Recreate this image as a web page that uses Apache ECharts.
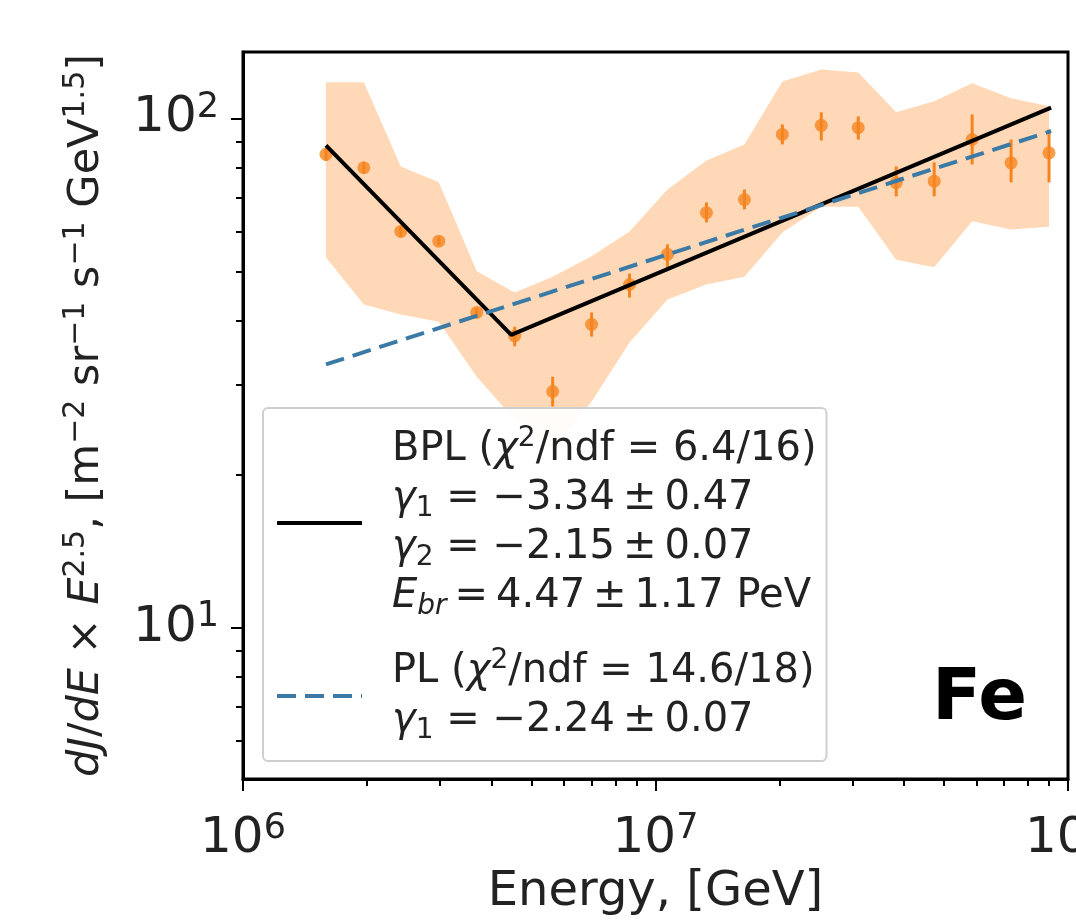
<!DOCTYPE html>
<html><head><meta charset="utf-8">
<script src="https://cdn.jsdelivr.net/npm/echarts@6/dist/echarts.min.js"></script>
<style>html,body{margin:0;padding:0;background:#fff}#c{width:1076px;height:924px}</style>
</head><body><div id="c"></div>
<script>
// ---- data ----
const energy = [1.589e6, 1.963e6, 2.413e6, 2.983e6, 3.687e6, 4.557e6, 5.632e6, 6.998e6, 8.650e6, 1.069e7,
                1.329e7, 1.643e7, 2.030e7, 2.523e7, 3.101e7, 3.833e7, 4.738e7, 5.856e7, 7.278e7, 8.995e7];
const flux = [85.0, 80.0, 60.0, 57.4, 41.6, 37.4, 29.1, 39.4, 47.2, 54.1,
              65.3, 69.3, 93.0, 96.9, 95.9, 74.8, 75.3, 90.9, 81.8, 85.6];
const fluxLow = [82.5, 78.0, 58.5, 56.3, 40.6, 35.7, 27.2, 37.3, 44.5, 51.0,
                 62.5, 66.3, 88.9, 90.5, 90.9, 70.3, 70.3, 81.2, 74.9, 74.9];
const fluxHigh = [87.5, 82.0, 61.5, 58.6, 42.5, 39.0, 31.1, 41.6, 49.6, 56.6,
                  68.4, 72.5, 97.3, 102.8, 100.9, 80.5, 82.0, 101.8, 90.9, 95.1];
const bandHigh = [117.7, 117.7, 80.5, 74.9, 50.1, 45.5, 48.9, 53.6, 60.0, 72.5,
                  82.7, 88.9, 118.2, 124.8, 123.1, 102.8, 108.0, 117.2, 109.5, 105.6];
const bandLow = [53.3, 43.1, 41.2, 39.9, 31.1, 25.6, 22.4, 27.8, 36.3, 44.1,
                 47.2, 48.9, 59.7, 67.1, 67.1, 52.8, 51.0, 62.8, 60.5, 61.3];
const bplLine = [[1.589e6, 88.5], [4.47e6, 37.6], [9.1e7, 105]];
const plLine = [[1.589e6, 32.9], [9.1e7, 94.4]];
const xMajorTicks = [1e6, 1e7, 1e8];
const xMinorTicks = [2e6, 3e6, 4e6, 5e6, 6e6, 7e6, 8e6, 9e6, 2e7, 3e7, 4e7, 5e7, 6e7, 7e7, 8e7, 9e7];
const yMajorTicks = [10, 100];
const yMinorTicks = [5, 6, 7, 8, 9, 20, 30, 40, 50, 60, 70, 80, 90];
const xRange = [1e6, 1e8];
const yRange = [5.05, 135];
const TS = '\u2009';
const bplLegend = ['{t|BPL (}{i|χ}{sup|2}{t|/ndf = 6.4/16)}',
                   '{i|γ}{sub|1}{t| = −3.34' + TS + '±' + TS + '0.47}',
                   '{i|γ}{sub|2}{t| = −2.15' + TS + '±' + TS + '0.07}',
                   '{i|E}{subi|br}{t|' + TS + '=' + TS + '4.47' + TS + '±' + TS + '1.17 PeV}'];
const plLegend = ['{t|PL (}{i|χ}{sup|2}{t|/ndf = 14.6/18)}',
                  '{i|γ}{sub|1}{t| = −2.24' + TS + '±' + TS + '0.07}'];
const xTitle = 'Energy, [GeV]';
const yTitle = '{i|dJ}{t|/}{i|dE}{t| × }{i|E}{sup|2.5}{t|, [m}{sup|−2}{t| sr}{sup|−1}{t| s}{sup|−1}{t| GeV}{sup|1.5}{t|]}';
const panelLabel = 'Fe';

// ---- styles ----
const FF = 'DejaVu Sans';
const TXT = '#222222';
const ORANGE = '#f5841f';
const BAND = '#ffd9b7';
const BLUE = '#3c7aa6';

const tickRich = {
  b: {fontFamily: FF, fontSize: 50, color: TXT, lineHeight: 56},
  s: {fontFamily: FF, fontSize: 35, color: TXT, lineHeight: 32, verticalAlign: 'top'}
};
function powLabel(v) {
  const e = Math.round(Math.log10(v));
  return '{b|10}{s|' + e + '}';
}
const nameRich = {
  t: {fontFamily: FF, fontSize: 43, color: TXT, lineHeight: 52},
  i: {fontFamily: FF, fontSize: 43, color: TXT, lineHeight: 52, fontStyle: 'italic'},
  sup: {fontFamily: FF, fontSize: 30, color: TXT, lineHeight: 30, verticalAlign: 'top'}
};
const legRich = {
  t: {fontFamily: FF, fontSize: 40, color: TXT, lineHeight: 49},
  i: {fontFamily: FF, fontSize: 40, color: TXT, lineHeight: 49, fontStyle: 'italic'},
  sup: {fontFamily: FF, fontSize: 28, color: TXT, lineHeight: 26, verticalAlign: 'top'},
  sub: {fontFamily: FF, fontSize: 28, color: TXT, lineHeight: 26, verticalAlign: 'bottom'},
  subi: {fontFamily: FF, fontSize: 28, color: TXT, lineHeight: 26, verticalAlign: 'bottom', fontStyle: 'italic'}
};

const chart = echarts.init(document.getElementById('c'), null, {renderer: 'canvas'});
const baseAxis = {type: 'log', logBase: 10, splitLine: {show: false}};
chart.setOption({
  animation: false,
  backgroundColor: '#ffffff',
  grid: {left: 243, right: 8, top: 52, bottom: 145, show: true, borderColor: '#000', borderWidth: 3,
         backgroundColor: 'transparent', containLabel: false, outerBoundsMode: 'none'},
  xAxis: [
    Object.assign({}, baseAxis, {
      min: xRange[0], max: xRange[1], position: 'bottom',
      axisLine: {show: true, lineStyle: {color: '#000', width: 3}},
      axisTick: {show: true, customValues: xMajorTicks, length: 12, lineStyle: {color: '#000', width: 2}},
      axisLabel: {customValues: xMajorTicks, formatter: powLabel, rich: tickRich, margin: 32},
      name: xTitle, nameLocation: 'middle', nameGap: 86,
      nameTextStyle: {fontFamily: FF, fontSize: 48, color: TXT}
    }),
    Object.assign({}, baseAxis, {
      min: xRange[0], max: xRange[1], position: 'bottom',
      axisLine: {show: false},
      axisTick: {show: true, customValues: xMinorTicks, length: 7, lineStyle: {color: '#000', width: 2}},
      axisLabel: {show: false}
    })
  ],
  yAxis: [
    Object.assign({}, baseAxis, {
      min: yRange[0], max: yRange[1], position: 'left',
      axisLine: {show: true, lineStyle: {color: '#000', width: 3}},
      axisTick: {show: true, customValues: yMajorTicks, length: 12, lineStyle: {color: '#000', width: 2}},
      axisLabel: {customValues: yMajorTicks, formatter: powLabel, rich: tickRich, margin: 24},
      name: yTitle, nameLocation: 'middle', nameGap: 130, nameRotate: 90,
      nameTextStyle: {rich: nameRich}
    }),
    Object.assign({}, baseAxis, {
      min: yRange[0], max: yRange[1], position: 'left',
      axisLine: {show: false},
      axisTick: {show: true, customValues: yMinorTicks, length: 7, lineStyle: {color: '#000', width: 2}},
      axisLabel: {show: false}
    })
  ],
  legend: {
    orient: 'vertical', left: 263, top: 408,
    data: [{name: 'BPL'}, {name: 'PL'}],
    itemWidth: 85, itemHeight: 20, itemGap: 26,
    padding: [17, 10, 16, 12],
    lineStyle: {width: 4},
    itemStyle: {color: 'rgba(0,0,0,0)', borderColor: 'rgba(0,0,0,0)', borderWidth: 0},
    backgroundColor: 'rgba(255,255,255,0.92)', borderColor: '#cfcfcf', borderWidth: 2, borderRadius: 5,
    selectedMode: false,
    formatter: function (name) { return (name === 'BPL' ? bplLegend : plLegend).join('\n'); },
    textStyle: {fontFamily: FF, fontSize: 40, color: TXT, lineHeight: 49, padding: [0, 0, 0, 25], rich: legRich}
  },
  graphic: [{
    type: 'text', left: 932, top: 664, z: 10,
    style: {text: panelLabel, fontFamily: FF, fontWeight: 'bold', fontSize: 72, fill: '#000'}
  }],
  series: [
    {
      name: 'band', type: 'custom', xAxisIndex: 0, yAxisIndex: 0, z: 1, silent: true,
      data: [[energy[0], bandHigh[0]]],
      renderItem: function (params, api) {
        const pts = [];
        for (let i = 0; i < energy.length; i++) pts.push(api.coord([energy[i], bandHigh[i]]));
        for (let i = energy.length - 1; i >= 0; i--) pts.push(api.coord([energy[i], bandLow[i]]));
        return {type: 'polygon', shape: {points: pts}, style: {fill: BAND, stroke: null}};
      }
    },
    {
      name: 'err', type: 'custom', xAxisIndex: 0, yAxisIndex: 0, z: 3, silent: true,
      data: energy.map((e, i) => [e, fluxLow[i], fluxHigh[i]]),
      encode: {x: 0, y: [1, 2]},
      renderItem: function (params, api) {
        const a = api.coord([api.value(0), api.value(1)]);
        const b = api.coord([api.value(0), api.value(2)]);
        return {type: 'line', shape: {x1: a[0], y1: a[1], x2: b[0], y2: b[1]}, style: {stroke: ORANGE, lineWidth: 3}};
      }
    },
    {
      name: 'data', type: 'scatter', xAxisIndex: 0, yAxisIndex: 0, z: 3, silent: true,
      data: energy.map((e, i) => [e, flux[i]]),
      symbol: 'circle', symbolSize: 13, itemStyle: {color: ORANGE}
    },
    {
      name: 'BPL', type: 'line', xAxisIndex: 0, yAxisIndex: 0, z: 4, silent: true,
      data: bplLine, symbol: 'none', showSymbol: false,
      lineStyle: {color: '#000', width: 4}, itemStyle: {color: '#000'}
    },
    {
      name: 'PL', type: 'line', xAxisIndex: 0, yAxisIndex: 0, z: 4, silent: true,
      data: plLine, symbol: 'none', showSymbol: false,
      lineStyle: {color: BLUE, width: 4, type: [19, 9]}, itemStyle: {color: BLUE}
    }
  ]
});
</script>
</body></html>
